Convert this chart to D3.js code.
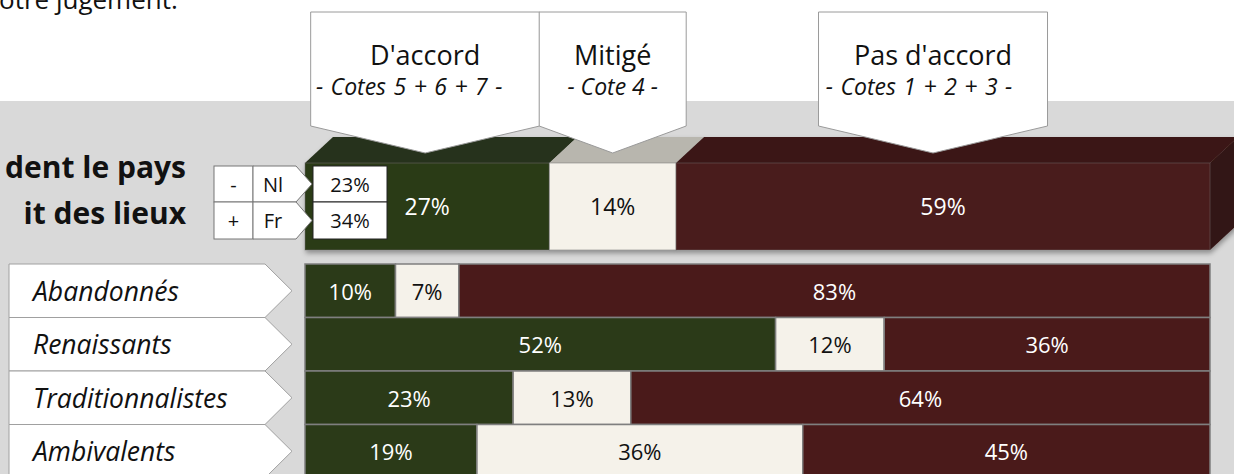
<!DOCTYPE html>
<html>
<head>
<meta charset="utf-8">
<script src="https://cdn.jsdelivr.net/npm/d3@7"></script>
<style>
  body { margin: 0; background: #fff; overflow: hidden; }
  svg { display: block; font-family: "Open Sans", "Noto Sans", sans-serif; }
</style>
</head>
<body>
<script>
// ////////// Datas ////////////
var segments  = ["D'accord", "Mitigé", "Pas d'accord"];
var subtitles = ["- Cotes 5 + 6 + 7 -", "- Cote 4 -", "- Cotes 1 + 2 + 3 -"];
var totalValues = [27, 14, 59];

var categories = ["Abandonnés", "Renaissants", "Traditionnalistes", "Ambivalents"];
var accord     = [10, 52, 23, 19];
var mitige     = [7, 12, 13, 36];
var pasAccord  = [83, 36, 64, 45];

var regionSigns = ["-", "+"];
var regions     = ["Nl", "Fr"];
var regionVals  = [23, 34];

var titleLines = ["dent le pays", "it des lieux"];
var headerText = "otre jugement.";

// ////////////// svg //////////////
var width = 1234, height = 474;
var colors = ["#2b3a18", "#f5f2ea", "#4a1a1a"];
var topColors = ["#26301a", "#b8b6ae", "#3a1514"];
var textColors = ["#fff", "#111", "#fff"];

var svg = d3.select("body").append("svg")
  .attr("width", width)
  .attr("height", height);

var defs = svg.append("defs");
defs.append("filter")
  .attr("id", "ombre")
  .attr("x", "-5%").attr("y", "-20%").attr("width", "110%").attr("height", "150%")
  .append("feDropShadow")
  .attr("dx", 1).attr("dy", 3).attr("stdDeviation", 2.5)
  .attr("flood-color", "#000").attr("flood-opacity", 0.35);

// fond gris
svg.append("rect")
  .attr("x", 0).attr("y", 101)
  .attr("width", width).attr("height", height - 101)
  .attr("fill", "#d9d9d9");

svg.append("text")
  .attr("x", -1).attr("y", 9)
  .attr("font-size", 26)
  .attr("fill", "#111")
  .text(headerText);

// ////////////// Scaling //////////////
var xScale = d3.scaleLinear().domain([0, 100]).range([305, 1210]);
var yScale = d3.scaleBand().domain(categories).range([264, 478]).paddingInner(0);

function stackOf(vals) {
  var acc = 0;
  return vals.map(function(v, i) {
    var s = {v: v, x0: acc, x1: acc + v, i: i};
    acc += v;
    return s;
  });
}

// //////////// grande barre 3D /////////////
var barTop = 163, barBot = 250, depthX = 28, depthY = 26;
var totStack = stackOf(totalValues);

var big = svg.append("g").attr("class", "big").attr("filter", "url(#ombre)");

// faces du dessus
big.selectAll("path.top")
  .data(totStack)
  .enter()
  .append("path")
  .attr("class", "top")
  .attr("d", function(d) {
    var a = xScale(d.x0), b = xScale(d.x1);
    return "M" + a + "," + barTop + "L" + b + "," + barTop +
      "L" + (b + depthX) + "," + (barTop - depthY) +
      "L" + (a + depthX) + "," + (barTop - depthY) + "Z";
  })
  .attr("fill", function(d) { return topColors[d.i]; });

// face de droite
var xr = xScale(100);
big.append("path")
  .attr("d", "M" + xr + "," + barTop + "L" + (xr + depthX) + "," + (barTop - depthY) +
    "L" + (xr + depthX) + "," + (barBot - depthY) + "L" + xr + "," + barBot + "Z")
  .attr("fill", "#331312");

big.selectAll("rect.front")
  .data(totStack)
  .enter()
  .append("rect")
  .attr("class", "front")
  .attr("x", function(d) { return xScale(d.x0); })
  .attr("y", barTop)
  .attr("width", function(d) { return xScale(d.x1) - xScale(d.x0); })
  .attr("height", barBot - barTop)
  .attr("fill", function(d) { return colors[d.i]; })
  .attr("stroke", "#6f6f6f")
  .attr("stroke-opacity", 0.5)
  .attr("stroke-width", 1);

svg.selectAll("text.val")
  .data(totStack)
  .enter()
  .append("text")
  .attr("class", "val")
  .attr("x", function(d) { return (xScale(d.x0) + xScale(d.x1)) / 2; })
  .attr("y", (barTop + barBot) / 2 + 8.5)
  .attr("text-anchor", "middle")
  .attr("font-size", 23)
  .attr("fill", function(d) { return textColors[d.i]; })
  .text(function(d) { return d.v + "%"; });

// ///////////// bulles du haut //////////////
var callW = [229, 147, 229];
var callDx = [-2, 0, -10];
var subDx = [-16, 0, -14];
var subSpacing = [1.5, 0, 1.5];
var callTop = 12, callBot = 126, callTip = 153;

var callouts = svg.selectAll("g.callout")
  .data(totStack)
  .enter()
  .append("g")
  .attr("class", "callout");

callouts.append("path")
  .attr("d", function(d) {
    var cx = (xScale(d.x0) + xScale(d.x1)) / 2 + callDx[d.i];
    var a = cx - callW[d.i] / 2, b = cx + callW[d.i] / 2;
    return "M" + a + "," + callTop + "L" + b + "," + callTop + "L" + b + "," + callBot +
      "L" + cx + "," + callTip + "L" + a + "," + callBot + "Z";
  })
  .attr("fill", "#fff")
  .attr("stroke", "#9a9a9a")
  .attr("stroke-width", 1);

callouts.append("text")
  .attr("x", function(d) { return (xScale(d.x0) + xScale(d.x1)) / 2 + callDx[d.i]; })
  .attr("y", 65)
  .attr("text-anchor", "middle")
  .attr("font-size", 27)
  .attr("fill", "#111")
  .text(function(d) { return segments[d.i]; });

callouts.append("text")
  .attr("x", function(d) { return (xScale(d.x0) + xScale(d.x1)) / 2 + callDx[d.i] + subDx[d.i]; })
  .attr("y", 95)
  .attr("text-anchor", "middle")
  .attr("font-size", 23)
  .attr("font-style", "italic")
  .attr("word-spacing", function(d) { return subSpacing[d.i]; })
  .attr("fill", "#111")
  .text(function(d) { return subtitles[d.i]; });

// ///////////// titre gauche //////////////
svg.selectAll("text.title")
  .data(titleLines)
  .enter()
  .append("text")
  .attr("class", "title")
  .attr("x", 186)
  .attr("y", function(d, i) { return 178 + i * 46; })
  .attr("text-anchor", "end")
  .attr("font-size", 30)
  .attr("font-weight", "bold")
  .attr("fill", "#111")
  .text(function(d) { return d; });

// ///////////// tableau Nl / Fr //////////////
var tabY = [166, 202, 239];
var tab = svg.append("g").attr("class", "tab");
regions.forEach(function(r, i) {
  var y0 = tabY[i], y1 = tabY[i + 1], ym = (y0 + y1) / 2;
  tab.append("rect")
    .attr("x", 214).attr("y", y0).attr("width", 39).attr("height", y1 - y0)
    .attr("fill", "#fff").attr("stroke", "#777").attr("stroke-width", 1);
  tab.append("path")
    .attr("d", "M253," + y0 + "L296," + y0 + "L312," + ym + "L296," + y1 + "L253," + y1 + "Z")
    .attr("fill", "#fff").attr("stroke", "#777").attr("stroke-width", 1);
  tab.append("text")
    .attr("x", 233.5).attr("y", ym + 7.5)
    .attr("text-anchor", "middle").attr("font-size", 20).attr("fill", "#111")
    .text(regionSigns[i]);
  tab.append("text")
    .attr("x", 273).attr("y", ym + 7.5)
    .attr("text-anchor", "middle").attr("font-size", 20).attr("fill", "#111")
    .text(r);
  tab.append("rect")
    .attr("x", 313).attr("y", y0).attr("width", 74).attr("height", y1 - y0)
    .attr("fill", "#fff").attr("stroke", "#222").attr("stroke-width", 1);
  tab.append("text")
    .attr("x", 350).attr("y", ym + 7.5)
    .attr("text-anchor", "middle").attr("font-size", 20).attr("fill", "#111")
    .text(regionVals[i] + "%");
});

// ///////////// étiquettes des segments //////////////
var labels = svg.selectAll("g.label")
  .data(categories)
  .enter()
  .append("g")
  .attr("class", "label");

labels.append("path")
  .attr("d", function(d) {
    var y0 = yScale(d), y1 = y0 + yScale.bandwidth(), ym = (y0 + y1) / 2;
    return "M9," + y0 + "L265," + y0 + "L292," + ym + "L265," + y1 + "L9," + y1 + "Z";
  })
  .attr("fill", "#fff")
  .attr("stroke", "#a0a0a0")
  .attr("stroke-width", 1);

labels.append("text")
  .attr("x", 33)
  .attr("y", function(d) { return yScale(d) + yScale.bandwidth() / 2 + 10; })
  .attr("font-size", 26.5)
  .attr("font-style", "italic")
  .attr("fill", "#111")
  .text(function(d) { return d; });

// ///////////// barres empilées //////////////
var rows = svg.selectAll("g.row")
  .data(categories)
  .enter()
  .append("g")
  .attr("class", "row")
  .attr("transform", function(d) { return "translate(0," + yScale(d) + ")"; });

var cells = rows.selectAll("g.cell")
  .data(function(d, i) { return stackOf([accord[i], mitige[i], pasAccord[i]]); })
  .enter()
  .append("g")
  .attr("class", "cell");

cells.append("rect")
  .attr("x", function(d) { return xScale(d.x0); })
  .attr("y", 0)
  .attr("width", function(d) { return xScale(d.x1) - xScale(d.x0); })
  .attr("height", yScale.bandwidth())
  .attr("fill", function(d) { return colors[d.i]; })
  .attr("stroke", "#7f7f7f")
  .attr("stroke-width", 1.5);

cells.append("text")
  .attr("x", function(d) { return (xScale(d.x0) + xScale(d.x1)) / 2; })
  .attr("y", yScale.bandwidth() / 2 + 9)
  .attr("text-anchor", "middle")
  .attr("font-size", 22)
  .attr("fill", function(d) { return textColors[d.i]; })
  .text(function(d) { return d.v + "%"; });
</script>
</body>
</html>
